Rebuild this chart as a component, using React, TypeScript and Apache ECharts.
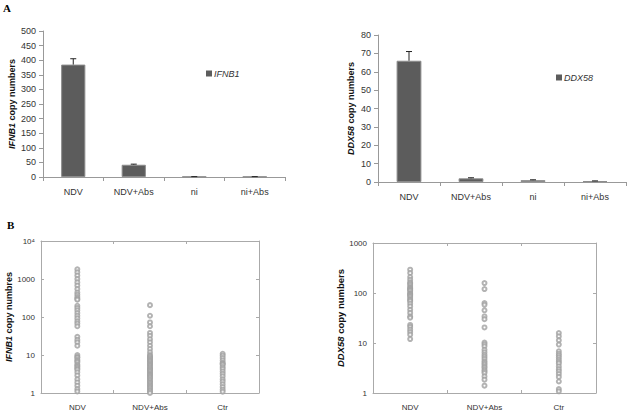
import React, { useEffect, useRef } from "react";
import * as echarts from "echarts";

// ---- Panel A data ----
const barCategories = ["NDV", "NDV+Abs", "ni", "ni+Abs"];
const ifnb1Means = [385, 42, 1, 1];
const ifnb1Errors = [20, 2, 0.3, 0.3];
const ddx58Means = [66, 2, 1, 0.5];
const ddx58Errors = [5, 0.3, 0.2, 0.1];

// ---- Panel B data ----
const scatterCategories = ["NDV", "NDV+Abs", "Ctr"];
const ifnb1NDV = [
  1800, 1500, 1230, 1000, 815, 670, 545, 440, 385, 335, 300, 285,
  198, 173, 150, 127, 108, 92, 77, 67, 57,
  30, 25, 21.5, 17.5,
  10, 8.9, 8.5, 7.5, 6.9, 6.4, 5.6, 5.2, 4.8, 4.4, 4.1, 3.5, 2.9, 2.3, 1.9, 1.56, 1.27, 1.1,
];
const ifnb1Abs = [
  205, 108, 72, 57, 38, 32, 26, 21.5, 17.5, 14.4, 11.8,
  10, 9.3, 8.6, 8.0, 7.4, 6.9, 6.4, 5.9, 5.5, 5.1, 4.7, 4.4, 4.1, 3.8, 3.5, 3.2, 3.0, 2.8, 2.6,
  2.4, 2.2, 2.0, 1.85, 1.7, 1.56, 1.43, 1.32, 1.2, 1.1, 1.0,
];
const ifnb1Ctr = [
  10.8, 9.6, 8.3, 7.2, 6.2, 5.9, 5.5, 4.8, 4.3, 3.7, 3.2, 2.75, 2.3, 2.0, 1.7, 1.44, 1.22, 1.08,
];
const ddx58NDV = [
  293, 251, 209, 184, 164, 155, 145, 132, 125, 120, 115, 110, 100, 96, 92, 88, 83, 76, 72, 68,
  61, 54, 46, 40, 34, 32, 23, 21, 18.5, 16.6, 14.7, 12,
];
const ddx58Abs = [
  158, 120, 63, 58, 45, 34, 30, 20.5,
  10.2, 9.4, 8.6, 7.3, 6.5, 5.8, 5.3, 4.8, 4.3, 4.0, 3.7, 3.4, 3.2, 2.9, 2.7, 2.5, 2.15, 1.85, 1.4,
];
const ddx58Ctr = [
  15.8, 13.6, 11.3, 9.3, 6.8, 6.1, 5.6, 5.1, 4.6, 4.2, 3.9, 3.4, 3.0, 2.7, 2.4, 2.1, 1.7, 1.2, 1.08,
];

const FONT = "'Liberation Sans', Arial, sans-serif";
const labelColor = "#333";
const axisColor = "#999";

function logLabel(v: number) {
  if (v >= 10000) return "10⁴";
  return String(Math.round(v));
}

function toPoints(groups: number[][]) {
  const out: number[][] = [];
  groups.forEach((g, i) => g.forEach((v) => out.push([i, v])));
  return out;
}

function errorRender(params: any, api: any) {
  const x = api.value(0);
  const lo = api.coord([x, api.value(1)]);
  const hi = api.coord([x, api.value(2)]);
  return {
    type: "group",
    children: [
      { type: "line", shape: { x1: lo[0], y1: lo[1], x2: hi[0], y2: hi[1] }, style: { stroke: "#222", lineWidth: 1 } },
      { type: "line", shape: { x1: hi[0] - 3, y1: hi[1], x2: hi[0] + 3, y2: hi[1] }, style: { stroke: "#222", lineWidth: 1 } },
    ],
  };
}

export default function App() {
  const ref = useRef<HTMLDivElement>(null);
  useEffect(() => {
    if (!ref.current) return;
    const chart = echarts.init(ref.current, undefined, { renderer: "svg" });

    const yName = (gene: string, rest: string) => `{i|${gene}}{b| ${rest}}`;
    const nameRich = (size: number) => ({
      i: { fontStyle: "italic", fontWeight: "bold", fontSize: size, fontFamily: FONT, color: "#111" },
      b: { fontWeight: "bold", fontSize: size, fontFamily: FONT, color: "#111" },
    });

    const barX = (grid: number) => ({
      type: "category",
      gridIndex: grid,
      data: barCategories,
      axisLine: { lineStyle: { color: axisColor } },
      axisTick: { show: true, length: 4, lineStyle: { color: axisColor } },
      axisLabel: { fontSize: 9, color: labelColor, fontFamily: FONT, margin: 10 },
    });
    const barY = (grid: number, max: number, interval: number, name: string, gap: number) => ({
      type: "value",
      gridIndex: grid,
      min: 0,
      max,
      interval,
      name,
      nameLocation: "middle",
      nameGap: gap,
      nameTextStyle: { rich: nameRich(9) },
      axisLine: { show: true, lineStyle: { color: axisColor } },
      axisTick: { show: true, length: 4, lineStyle: { color: axisColor } },
      splitLine: { show: false },
      axisLabel: { fontSize: 9, color: labelColor, fontFamily: FONT, margin: 7 },
    });

    const scX = (grid: number) => ({
      type: "category",
      gridIndex: grid,
      data: scatterCategories,
      position: "bottom",
      axisLine: { lineStyle: { color: "#aaa" } },
      axisTick: { show: true, inside: true, length: 3, lineStyle: { color: "#aaa" } },
      axisLabel: { fontSize: 8, color: labelColor, fontFamily: FONT, margin: 10 },
    });
    const scXTop = (grid: number) => ({
      type: "category",
      gridIndex: grid,
      data: scatterCategories,
      position: "top",
      axisLine: { lineStyle: { color: "#aaa" } },
      axisTick: { show: true, inside: true, length: 3, lineStyle: { color: "#aaa" } },
      axisLabel: { show: false },
    });
    const scY = (grid: number, max: number, name: string, gap: number, size: number) => ({
      type: "log",
      logBase: 10,
      gridIndex: grid,
      min: 1,
      max,
      name,
      nameLocation: "middle",
      nameGap: gap,
      nameTextStyle: { rich: nameRich(size) },
      axisLine: { show: true, lineStyle: { color: "#aaa" } },
      axisTick: { show: true, inside: true, length: 3, lineStyle: { color: "#aaa" } },
      minorTick: { show: false },
      splitLine: { show: false },
      axisLabel: { fontSize: 8, color: labelColor, fontFamily: FONT, margin: 6, formatter: logLabel },
    });
    const scYRight = (grid: number, max: number) => ({
      type: "log",
      logBase: 10,
      gridIndex: grid,
      min: 1,
      max,
      position: "right",
      axisLine: { show: true, lineStyle: { color: "#aaa" } },
      axisTick: { show: true, inside: true, length: 3, lineStyle: { color: "#aaa" } },
      splitLine: { show: false },
      axisLabel: { show: false },
    });

    const scatterStyle = {
      type: "scatter",
      symbol: "emptyCircle",
      symbolSize: 4,
      itemStyle: { color: "#a0a0a0", borderWidth: 0.7 },
    };

    const legendCommon = {
      icon: "rect",
      itemWidth: 6,
      itemHeight: 6,
      itemGap: 2,
      itemStyle: { borderWidth: 0 },
      textStyle: { fontSize: 9, fontStyle: "italic", color: "#333", fontFamily: FONT, padding: [0, 0, 0, -3] },
    };

    chart.setOption({
      animation: false,
      backgroundColor: "#fff",
      textStyle: { fontFamily: FONT },
      grid: [
        { left: 43, top: 31, width: 242, height: 146 },
        { left: 378, top: 35, width: 248, height: 147 },
        { left: 41, top: 241, width: 218, height: 152 },
        { left: 373, top: 243, width: 223, height: 150 },
      ],
      legend: [
        { ...legendCommon, data: ["IFNB1"], left: 201, top: 64 },
        { ...legendCommon, data: ["DDX58"], left: 551, top: 68 },
      ],
      graphic: [
        { type: "text", left: 3, top: 2, style: { text: "A", font: "bold 11px 'Liberation Serif', serif", fill: "#000" } },
        { type: "text", left: 7, top: 219, style: { text: "B", font: "bold 11px 'Liberation Serif', serif", fill: "#000" } },
      ],
      xAxis: [barX(0), barX(1), scX(2), scX(3), scXTop(2), scXTop(3)],
      yAxis: [
        barY(0, 500, 50, yName("IFNB1", "copy numbers"), 27),
        barY(1, 80, 10, yName("DDX58", "copy numbers"), 23),
        scY(2, 10000, yName("IFNB1", "copy numbres"), 26, 9),
        scY(3, 1000, yName("DDX58", "copy numbers"), 26, 9.5),
        scYRight(2, 10000),
        scYRight(3, 1000),
      ],
      series: [
        {
          name: "IFNB1",
          type: "bar",
          xAxisIndex: 0,
          yAxisIndex: 0,
          barWidth: "40%",
          data: ifnb1Means,
          itemStyle: { color: "#5c5c5c", borderColor: "#8c8c8c", borderWidth: 1 },
        },
        {
          type: "custom",
          xAxisIndex: 0,
          yAxisIndex: 0,
          renderItem: errorRender,
          encode: { x: 0, y: [1, 2] },
          data: ifnb1Means.map((m, i) => [i, m, m + ifnb1Errors[i]]),
          z: 5,
        },
        {
          name: "DDX58",
          type: "bar",
          xAxisIndex: 1,
          yAxisIndex: 1,
          barWidth: "40%",
          data: ddx58Means,
          itemStyle: { color: "#5c5c5c", borderColor: "#8c8c8c", borderWidth: 1 },
        },
        {
          type: "custom",
          xAxisIndex: 1,
          yAxisIndex: 1,
          renderItem: errorRender,
          encode: { x: 0, y: [1, 2] },
          data: ddx58Means.map((m, i) => [i, m, m + ddx58Errors[i]]),
          z: 5,
        },
        {
          ...scatterStyle,
          xAxisIndex: 2,
          yAxisIndex: 2,
          data: toPoints([ifnb1NDV, ifnb1Abs, ifnb1Ctr]),
        },
        {
          ...scatterStyle,
          xAxisIndex: 3,
          yAxisIndex: 3,
          data: toPoints([ddx58NDV, ddx58Abs, ddx58Ctr]),
        },
      ],
    });
    return () => chart.dispose();
  }, []);

  return (
    <div
      ref={ref}
      style={{ position: "fixed", left: 0, top: 0, width: 630, height: 414, background: "#fff" }}
    />
  );
}
